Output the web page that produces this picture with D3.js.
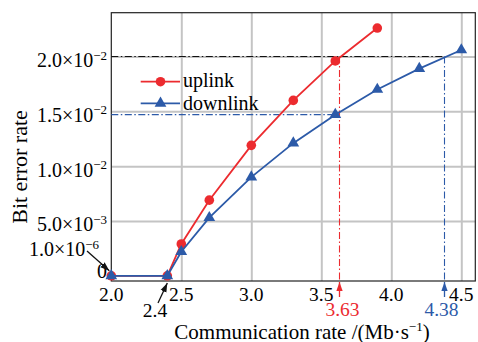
<!DOCTYPE html>
<html lang="en">
<head>
<meta charset="UTF-8">
<title>Bit error rate vs communication rate</title>
<script src="https://d3js.org/d3.v7.min.js"></script>
<style>
  body { margin: 0; background: #fff; }
  svg { display: block; font-family: 'Liberation Serif', 'DejaVu Serif', serif; }
</style>
</head>
<body>
<svg id="chart" width="478" height="342"></svg>
<script>
// data
const uplinkRate = [2.0, 2.4, 2.5, 2.7, 3.0, 3.3, 3.6, 3.9];
const uplinkBer = [0, 0, 0.0029, 0.0069, 0.0119, 0.0160, 0.0196, 0.0226];
const downlinkRate = [2.0, 2.4, 2.5, 2.7, 3.0, 3.3, 3.6, 3.9, 4.2, 4.5];
const downlinkBer = [0, 0, 0.0022, 0.0053, 0.0090, 0.0121, 0.0147, 0.0170, 0.0189, 0.0206];
const xTicks = [2.0, 2.5, 3.0, 3.5, 4.0, 4.5];
const yTicks = [0, 0.005, 0.01, 0.015, 0.02];
const yTickLabels = [['0', null], ['5.0', '−3'], ['1.0', '−2'], ['1.5', '−2'], ['2.0', '−2']];
const berLimit = 0.02;
const uplinkCross = 3.63;
const downlinkCross = 4.38;
const downlinkAt36 = 0.0147;
const startRate = 2.4;

const RED = '#ec2b2f', BLUE = '#2c5aa8';

const svg = d3.select('#chart');
const pLeft = 111.3, pRight = 475.3, pTop = 12.7, pBottom = 281;
const x = d3.scaleLinear().domain([2.0, 4.6]).range([pLeft, pRight]);
const y = d3.scaleLinear().domain([-0.000475, 0.024]).range([pBottom, pTop]);

// grid
svg.append('g').attr('transform', `translate(0,${pBottom})`)
  .call(d3.axisBottom(x).tickValues(xTicks.slice(1)).tickSize(-(pBottom - pTop)).tickFormat(''))
  .call(g => g.select('.domain').remove())
  .call(g => g.selectAll('line').attr('stroke', '#c4c4c4').attr('stroke-width', 2));
svg.append('g').attr('transform', `translate(${pLeft},0)`)
  .call(d3.axisLeft(y).tickValues(yTicks.slice(1)).tickSize(-(pRight - pLeft)).tickFormat(''))
  .call(g => g.select('.domain').remove())
  .call(g => g.selectAll('line').attr('stroke', '#c4c4c4').attr('stroke-width', 2));

// frame
svg.append('rect').attr('x', pLeft).attr('y', pTop).attr('width', pRight - pLeft).attr('height', pBottom - pTop)
  .attr('fill', 'none').attr('stroke', '#222').attr('stroke-width', 1.2);

// x tick labels
svg.append('g').selectAll('text').data(xTicks).join('text')
  .attr('x', d => x(d)).attr('y', 300.5).attr('text-anchor', 'middle')
  .attr('font-size', 19.5).text(d => d.toFixed(1));

// y tick labels
yTicks.forEach((v, i) => {
  const [m, e] = yTickLabels[i];
  const t = svg.append('text').attr('x', 107).attr('y', y(v) + (v === 0 ? 2.5 : 10.5))
    .attr('text-anchor', 'end').attr('font-size', 20);
  if (e === null) { t.text(m); return; }
  t.append('tspan').text(m + '×10');
  t.append('tspan').attr('dy', -7.5).attr('font-size', 13).text(e);
});

// arrow markers
const defs = svg.append('defs');
[['arrK', '#111'], ['arrR', RED], ['arrB', BLUE]].forEach(([id, c]) => {
  defs.append('marker').attr('id', id).attr('viewBox', '0 0 10 10').attr('refX', 10).attr('refY', 5)
    .attr('markerWidth', 7).attr('markerHeight', 7).attr('orient', 'auto')
    .append('path').attr('d', 'M0,1.5L10,5L0,8.5Z').attr('fill', c);
});

// reference lines
const dash = '7 2.5 1.5 2.5';
svg.append('line').attr('x1', pLeft).attr('x2', x(downlinkCross)).attr('y1', y(berLimit)).attr('y2', y(berLimit))
  .attr('stroke', '#111').attr('stroke-width', 1.1).attr('stroke-dasharray', dash);
svg.append('line').attr('x1', pLeft).attr('x2', x(3.6)).attr('y1', y(downlinkAt36)).attr('y2', y(downlinkAt36))
  .attr('stroke', BLUE).attr('stroke-width', 1.1).attr('stroke-dasharray', dash);
svg.append('line').attr('x1', x(uplinkCross)).attr('x2', x(uplinkCross)).attr('y1', y(berLimit)).attr('y2', pBottom)
  .attr('stroke', RED).attr('stroke-width', 1.1).attr('stroke-dasharray', dash);
svg.append('line').attr('x1', x(downlinkCross)).attr('x2', x(downlinkCross)).attr('y1', y(berLimit)).attr('y2', pBottom)
  .attr('stroke', BLUE).attr('stroke-width', 1.1).attr('stroke-dasharray', dash);

// series
const up = uplinkRate.map((r, i) => [r, uplinkBer[i]]);
const down = downlinkRate.map((r, i) => [r, downlinkBer[i]]);
const line = d3.line().x(d => x(d[0])).y(d => y(d[1]));
svg.append('path').datum(up).attr('d', line).attr('fill', 'none').attr('stroke', RED).attr('stroke-width', 1.8);
svg.append('g').selectAll('circle').data(up).join('circle')
  .attr('cx', d => x(d[0])).attr('cy', d => y(d[1])).attr('r', 4.8).attr('fill', RED);
svg.append('path').datum(down).attr('d', line).attr('fill', 'none').attr('stroke', BLUE).attr('stroke-width', 1.8);
const tri = d3.symbol().type(d3.symbolTriangle).size(60);
svg.append('g').selectAll('path').data(down).join('path')
  .attr('transform', d => `translate(${x(d[0])},${y(d[1])})`).attr('d', tri).attr('fill', BLUE);

// annotations
const ann = svg.append('text').attr('x', 29).attr('y', 256).attr('font-size', 20);
ann.append('tspan').text('1.0×10');
ann.append('tspan').attr('dy', -7.5).attr('font-size', 13).text('−6');
svg.append('line').attr('x1', 87).attr('y1', 251).attr('x2', x(2.0) - 2).attr('y2', y(0) - 5)
  .attr('stroke', '#111').attr('stroke-width', 1.3).attr('marker-end', 'url(#arrK)');

svg.append('text').attr('x', 155).attr('y', 316.5).attr('text-anchor', 'middle').attr('font-size', 19.5).text(startRate.toFixed(1));
svg.append('line').attr('x1', 158).attr('y1', 303).attr('x2', x(startRate)).attr('y2', pBottom + 2)
  .attr('stroke', '#111').attr('stroke-width', 1.3).attr('marker-end', 'url(#arrK)');

svg.append('line').attr('x1', x(uplinkCross)).attr('x2', x(uplinkCross)).attr('y1', 297).attr('y2', pBottom + 1)
  .attr('stroke', RED).attr('stroke-width', 1.3).attr('marker-end', 'url(#arrR)');
svg.append('text').attr('x', x(uplinkCross) + 3).attr('y', 315.5).attr('text-anchor', 'middle')
  .attr('font-size', 19.5).attr('fill', RED).text(uplinkCross.toFixed(2));
svg.append('line').attr('x1', x(downlinkCross)).attr('x2', x(downlinkCross)).attr('y1', 297).attr('y2', pBottom + 1)
  .attr('stroke', BLUE).attr('stroke-width', 1.3).attr('marker-end', 'url(#arrB)');
svg.append('text').attr('x', x(downlinkCross) - 3).attr('y', 315.5).attr('text-anchor', 'middle')
  .attr('font-size', 19.5).attr('fill', BLUE).text(downlinkCross.toFixed(2));

// legend
const legend = [['uplink', RED, 'circle', 81.7, 87], ['downlink', BLUE, 'tri', 103.3, 109.5]];
legend.forEach(([name, c, m, ly, ty]) => {
  svg.append('line').attr('x1', 140.7).attr('x2', 180).attr('y1', ly).attr('y2', ly).attr('stroke', c).attr('stroke-width', 1.8);
  if (m === 'circle') svg.append('circle').attr('cx', 160.5).attr('cy', ly).attr('r', 4.8).attr('fill', c);
  else svg.append('path').attr('transform', `translate(160.5,${ly})`).attr('d', tri).attr('fill', c);
  svg.append('text').attr('x', 183).attr('y', ty).attr('font-size', 20).text(name);
});

// axis titles
const xt = svg.append('text').attr('x', 302).attr('y', 338.5).attr('text-anchor', 'middle').attr('font-size', 21);
xt.append('tspan').text('Communication rate /(Mb·s');
xt.append('tspan').attr('dy', -7.5).attr('font-size', 13).text('−1');
xt.append('tspan').attr('dy', 7.5).text(')');
svg.append('text').attr('transform', 'translate(27,167) rotate(-90)').attr('text-anchor', 'middle')
  .attr('font-size', 22).text('Bit error rate');
</script>
</body>
</html>
